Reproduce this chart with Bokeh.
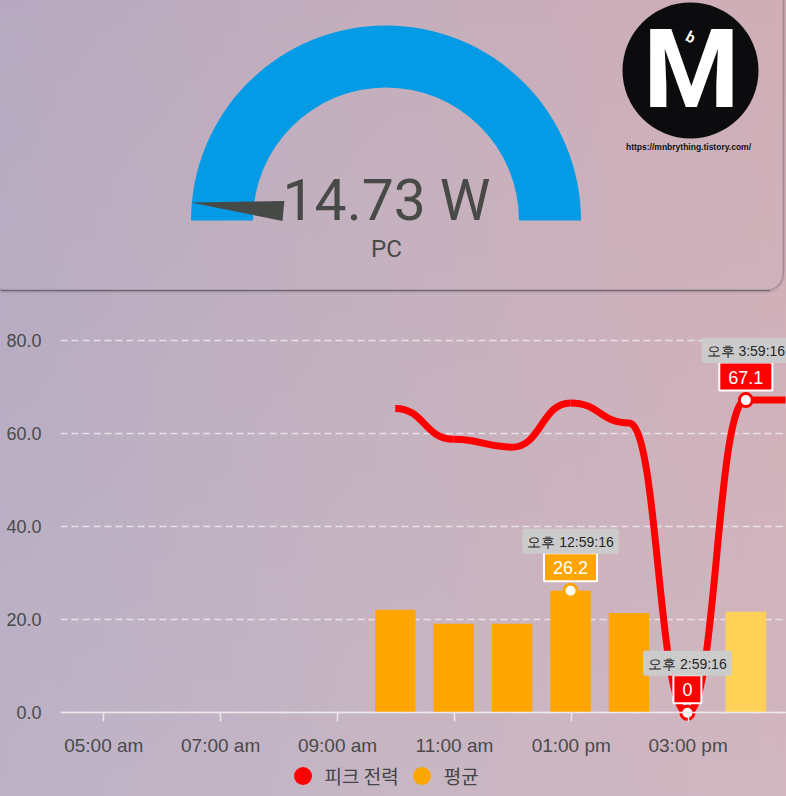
import math
from bokeh.plotting import figure
from bokeh.layouts import column
from bokeh.models import (Range1d, FixedTicker, PrintfTickFormatter, Label,
                          Legend, LegendItem)
from bokeh.core.properties import value
from bokeh.embed import file_html
from bokeh.resources import INLINE

# ---------------- data ----------------
gauge_value = 14.73
gauge_unit = "W"
gauge_name = "PC"
gauge_min = 0
gauge_max = 500

logo_text = "M"
logo_small = "b"
logo_url = "https://mnbrything.tistory.com/"

peak_name = "피크 전력"
avg_name = "평균"

hour_times = ["09:59:16", "10:59:16", "11:59:16", "12:59:16",
              "13:59:16", "14:59:16", "15:59:16"]
avg_power = [22.1, 19.1, 19.1, 26.2, 21.4, 0, 21.7]
peak_power = [65.3, 58.7, 57.0, 66.5, 62.2, 0, 67.1]
now_time = "16:40:00"        # peak value carried forward to "now"
now_peak = 67.1

x_tick_hours = [5, 7, 9, 11, 13, 15]
x_tick_labels = ["05:00 am", "07:00 am", "09:00 am", "11:00 am",
                 "01:00 pm", "03:00 pm"]
y_ticks = [0, 20, 40, 60, 80]

# annotated points: (series, index into hour_times)
ann_series = ["avg", "peak", "peak"]
ann_index = [3, 5, 6]

# ---------------- styles ----------------
RED = "#ff0000"
ORANGE = "#ffa500"
LIGHT_ORANGE = "#ffd257"
BLUE = "#039be5"
TEXT = "#474a47"
AXIS_TEXT = "#4a4a4a"
GRID = "#efeaef"
BG = ("linear-gradient(to bottom, rgba(255,255,255,0) 0%, rgba(215,215,228,0.22) 100%), "
      "linear-gradient(to right, #b5a8bf 0%, #c3adbb 50%, #d0adb5 100%)")
MID = 0.342   # em offset between text middle and alphabetic baseline (Roboto)

W = 786
GAUGE_H = 316
CHART_H = 796 - GAUGE_H
CX, CY = 385.5, 220      # gauge centre (page px)


def to_hours(s):
    h, m, sec = (int(v) for v in s.split(":"))
    return h + m / 60 + sec / 3600


def korean_time(s):
    h, m, sec = (int(v) for v in s.split(":"))
    ampm = "오전" if h < 12 else "오후"
    h12 = h % 12 or 12
    return f"{ampm} {h12}:{m:02d}:{sec:02d}"


# ---------------- gauge card ----------------
g = figure(width=W, height=GAUGE_H, x_range=Range1d(-CX, W - CX),
           y_range=Range1d(CY - GAUGE_H, CY), output_backend="svg",
           toolbar_location=None, x_axis_type=None, y_axis_type=None,
           min_border=0)
g.min_border_left = g.min_border_right = g.min_border_top = g.min_border_bottom = 0
g.outline_line_color = None
g.background_fill_alpha = 0
g.border_fill_alpha = 0
g.xgrid.visible = False
g.ygrid.visible = False

# card outline (shadow mostly at the bottom)
CARD_B = CY - 290
g.quad(left=[-CX - 12], right=[783 - CX], top=[CY + 40], bottom=[CARD_B - 1.5],
       fill_color=None, line_color="#5a505c", line_alpha=0.12, line_width=3,
       border_radius=18)
g.quad(left=[-CX - 12], right=[783 - CX], top=[CY + 40], bottom=[CARD_B],
       fill_color="white", fill_alpha=0.02, line_color="#5d535f", line_alpha=0.3,
       line_width=1.2, border_radius=18)
g.segment(x0=[-CX], y0=[CARD_B], x1=[783 - CX - 14], y1=[CARD_B],
          line_color="#5d535f", line_alpha=0.7, line_width=1.3)

# arc
g.annular_wedge(x=[0], y=[0], inner_radius=133, outer_radius=195,
                start_angle=0, end_angle=math.pi, fill_color=BLUE, line_color=None)

# needle
frac = (gauge_value - gauge_min) / (gauge_max - gauge_min)
th = math.pi * (1 - frac)
tip_r, base_r, half_w = 196, 103, 10
bx, by = base_r * math.cos(th), base_r * math.sin(th)
nx, ny = -math.sin(th), math.cos(th)
g.patch(x=[tip_r * math.cos(th), bx + half_w * nx, bx - half_w * nx],
        y=[tip_r * math.sin(th), by + half_w * ny, by - half_w * ny],
        fill_color="#464a46", line_color=None)

g.text(x=[0.5], y=[1 + MID * 57], text=[f"{gauge_value:.2f} {gauge_unit}"],
       text_font=value("Roboto"), text_font_size="57px", text_align="center",
       text_baseline="middle", text_color=TEXT)
g.text(x=[0.5], y=[-37 + MID * 24], text=[gauge_name], text_font=value("Roboto"),
       text_font_size="24px", text_align="center", text_baseline="middle",
       text_color=TEXT)

# logo
g.circle(x=[690 - CX], y=[CY - 70], radius=68, fill_color="#0c0c0f", line_color=None)
g.text(x=[691 - CX], y=[CY - 107 + MID * 110], text=[logo_text],
       text_font=value("Roboto"), text_font_style="bold", text_font_size="110px",
       text_align="center", text_baseline="middle", text_color="white")
g.text(x=[690 - CX], y=[CY - 37], text=[logo_small], text_font=value("Roboto"),
       text_font_style="bold", text_font_size="15px", text_align="center",
       text_baseline="middle", text_color="white", angle=-0.5)
g.text(x=[688 - CX], y=[CY - 146], text=[logo_url], text_font=value("Liberation Sans"),
       text_font_style="bold", text_font_size="8.5px", text_align="center",
       text_baseline="middle", text_color="#101010")

# ---------------- chart ----------------
PX_PER_H = 58.43
X0_PX = 103.3          # page x of 05:00
Y0_PX = 712.3          # page y of value 0
PX_PER_UNIT = 4.66
FRAME_L, FRAME_R, FRAME_T, FRAME_B = 60, W, GAUGE_H, 796

x_range = Range1d(5 + (FRAME_L - X0_PX) / PX_PER_H, 5 + (FRAME_R - X0_PX) / PX_PER_H)
y_range = Range1d(-(FRAME_B - Y0_PX) / PX_PER_UNIT, (Y0_PX - FRAME_T) / PX_PER_UNIT)

p = figure(width=W, height=CHART_H, x_range=x_range, y_range=y_range,
           output_backend="svg", toolbar_location=None)
p.min_border_left = FRAME_L
p.min_border_right = 0
p.min_border_top = 0
p.min_border_bottom = 0
p.outline_line_color = None
p.background_fill_alpha = 0
p.border_fill_alpha = 0

hx = [to_hours(t) for t in hour_times]

# bars
bar_colors = [ORANGE] * (len(hx) - 1) + [LIGHT_ORANGE]
p.vbar(x=hx, top=avg_power, bottom=0, width=40.5 / PX_PER_H,
       fill_color=bar_colors, line_color=None)

# smooth peak line (cubic segments with horizontal tangents at each point)
lx = hx + [to_hours(now_time)]
ly = peak_power + [now_peak]
n = len(lx)
hs = [lx[i + 1] - lx[i] for i in range(n - 1)]
p.bezier(x0=lx[:-1], y0=ly[:-1], x1=lx[1:], y1=ly[1:],
         cx0=[lx[i] + hs[i] / 2 for i in range(n - 1)], cy0=ly[:-1],
         cx1=[lx[i + 1] - hs[i] / 2 for i in range(n - 1)], cy1=ly[1:],
         line_color=RED, line_width=7)

# legend renderers (legend swatches are circles)
leg_peak = p.scatter(x=hx, y=peak_power, size=0, fill_color=RED, line_color=None)
leg_avg = p.scatter(x=hx, y=avg_power, size=0, fill_color=ORANGE, line_color=None)

# annotations
for s, idx in zip(ann_series, ann_index):
    col = ORANGE if s == "avg" else RED
    yv = avg_power[idx] if s == "avg" else peak_power[idx]
    xv = hx[idx]
    p.scatter(x=[xv], y=[yv], size=13, fill_color="white", line_color=col,
              line_width=3)
    p.add_layout(Label(x=xv, y=yv, text=f"{yv:g}", x_units="data", y_units="data",
                       y_offset=23.5, text_align="center", text_baseline="middle",
                       text_font="Liberation Sans", text_font_size="18px",
                       text_color="white", background_fill_color=col,
                       border_line_color="white", border_line_width=2,
                       padding=dict(left=9, right=9, top=8, bottom=7)))
    p.add_layout(Label(x=xv, y=yv, text=korean_time(hour_times[idx]), x_units="data",
                       y_units="data", y_offset=49.5, text_align="center",
                       text_baseline="middle", text_font="Liberation Sans",
                       text_font_size="14px", text_color="#262626",
                       background_fill_color="#cbcbcb", border_radius=2,
                       padding=dict(left=5, right=5, top=5, bottom=4)))

# axes
p.xaxis.fixed_location = 0
p.xaxis.ticker = FixedTicker(ticks=x_tick_hours)
p.xaxis.major_label_overrides = dict(zip(x_tick_hours, x_tick_labels))
p.xaxis.axis_line_color = "#ebe7eb"
p.xaxis.axis_line_width = 1.5
p.xaxis.major_tick_line_color = "#ebe7eb"
p.xaxis.major_tick_line_width = 1.5
p.xaxis.major_tick_out = 9
p.xaxis.major_tick_in = 0
p.xaxis.minor_tick_line_color = None
p.xaxis.major_label_standoff = 13
p.xaxis.major_label_text_font = "Liberation Sans"
p.xaxis.major_label_text_font_size = "19px"
p.xaxis.major_label_text_color = AXIS_TEXT

p.yaxis.ticker = FixedTicker(ticks=y_ticks)
p.yaxis.formatter = PrintfTickFormatter(format="%.1f")
p.yaxis.axis_line_color = None
p.yaxis.major_tick_line_color = None
p.yaxis.minor_tick_line_color = None
p.yaxis.major_label_standoff = 13
p.yaxis.major_label_text_font = "Liberation Sans"
p.yaxis.major_label_text_font_size = "18px"
p.yaxis.major_label_text_color = AXIS_TEXT

p.xgrid.visible = False
p.ygrid.ticker = FixedTicker(ticks=y_ticks)
p.ygrid.grid_line_color = GRID
p.ygrid.grid_line_alpha = 0.85
p.ygrid.grid_line_width = 1.5
p.ygrid.grid_line_dash = "7 4"

legend = Legend(items=[LegendItem(label=peak_name, renderers=[leg_peak]),
                       LegendItem(label=avg_name, renderers=[leg_avg])],
                orientation="horizontal", location=(279.5 - FRAME_L, -1.5),
                glyph_width=45, glyph_height=45, label_standoff=0, spacing=0,
                padding=0, margin=0, border_line_color=None,
                background_fill_alpha=0, label_text_font="Noto Sans CJK KR",
                label_text_font_size="19px", label_text_color="#444444")
p.add_layout(legend)

layout = column(column(g), column(p), spacing=0, styles={"background": BG})
open("out.html", "w").write(file_html(layout, INLINE))
